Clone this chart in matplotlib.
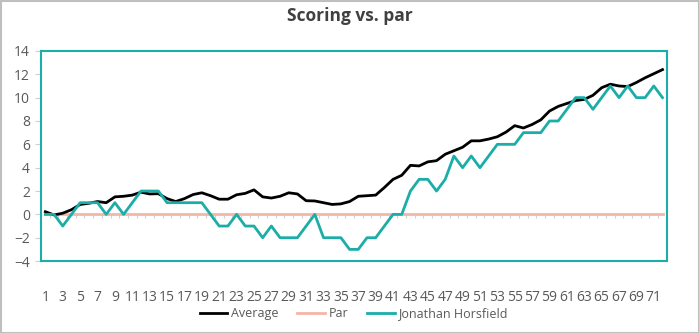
import numpy as np
import matplotlib.pyplot as plt
from matplotlib.patches import Rectangle

plt.rcParams['font.family'] = ['Open Sans', 'DejaVu Sans']

rounds = list(range(1, 73))
average = [0.23, -0.05, 0.1, 0.4, 0.85, 0.95, 1.1, 1.0, 1.5, 1.55,
           1.65, 1.9, 1.75, 1.77, 1.35, 1.1, 1.35, 1.7, 1.85, 1.6,
           1.3, 1.3, 1.68, 1.8, 2.1, 1.5, 1.4, 1.55, 1.85, 1.75,
           1.17, 1.15, 1.0, 0.85, 0.9, 1.1, 1.55, 1.6, 1.65, 2.3,
           3.0, 3.35, 4.2, 4.15, 4.5, 4.6, 5.15, 5.45, 5.75, 6.3,
           6.3, 6.45, 6.65, 7.05, 7.6, 7.4, 7.7, 8.1, 8.85, 9.25,
           9.5, 9.75, 9.85, 10.2, 10.85, 11.15, 11.0, 10.95, 11.3, 11.7,
           12.05, 12.4]
par = [0] * 72
jonathan = [0, 0, -1, 0, 1, 1, 1, 0, 1, 0,
            1, 2, 2, 2, 1, 1, 1, 1, 1, 0,
            -1, -1, 0, -1, -1, -2, -1, -2, -2, -2,
            -1, 0, -2, -2, -2, -3, -3, -2, -2, -1,
            0, 0, 2, 3, 3, 2, 3, 5, 4, 5,
            4, 5, 6, 6, 6, 7, 7, 7, 8, 8,
            9, 10, 10, 9, 10, 11, 10, 11, 10, 10,
            11, 10]

teal = '#1BADA8'
grey = '#595959'

fig = plt.figure(figsize=(6.99, 3.33), dpi=100)
fig.patches.append(Rectangle((0.5 / 699, 0.5 / 333), 1 - 1 / 699, 1 - 1 / 333,
                             transform=fig.transFigure, fill=False,
                             edgecolor='#BFBFBF', linewidth=1.5))
ax = fig.add_axes([0.0587, 0.216, 0.8953, 0.631])

ax.plot(rounds, par, color='#F4B6A6', linewidth=2, label='Par', zorder=2)
ax.vlines(np.arange(0.5, 73, 1), -0.3, 0, color='#D0D0D0', linewidth=0.8, zorder=1)
ax.plot(rounds, average, color='black', linewidth=2, label='Average', zorder=3)
ax.plot(rounds, jonathan, color=teal, linewidth=2, label='Jonathan Horsfield', zorder=3)

ax.set_xlim(0.5, 72.5)
ax.set_ylim(-4, 14)
ax.set_yticks(range(-4, 15, 2))
ax.set_xticks(rounds[::2])
ax.tick_params(axis='y', colors='#D0D0D0', labelcolor=grey, labelsize=10, length=4, pad=4)
ax.tick_params(axis='x', length=0, labelcolor=grey, labelsize=10, pad=21)
for s in ax.spines.values():
    s.set_color(teal)
    s.set_linewidth(1.5)

fig.text(0.5, 1 - 16 / 333, 'Scoring vs. par', ha='center', va='center',
         fontsize=12.5, fontweight='bold', color='#404040')

h, l = ax.get_legend_handles_labels()
order = [1, 0, 2]
ax.legend([h[i] for i in order], [l[i] for i in order], loc='center',
          bbox_to_anchor=(0.5, -0.25), ncol=3, frameon=False, fontsize=9,
          handlelength=2.2, columnspacing=1.5, handletextpad=0.3,
          labelcolor=grey)

fig.savefig('out.png', dpi=100)
